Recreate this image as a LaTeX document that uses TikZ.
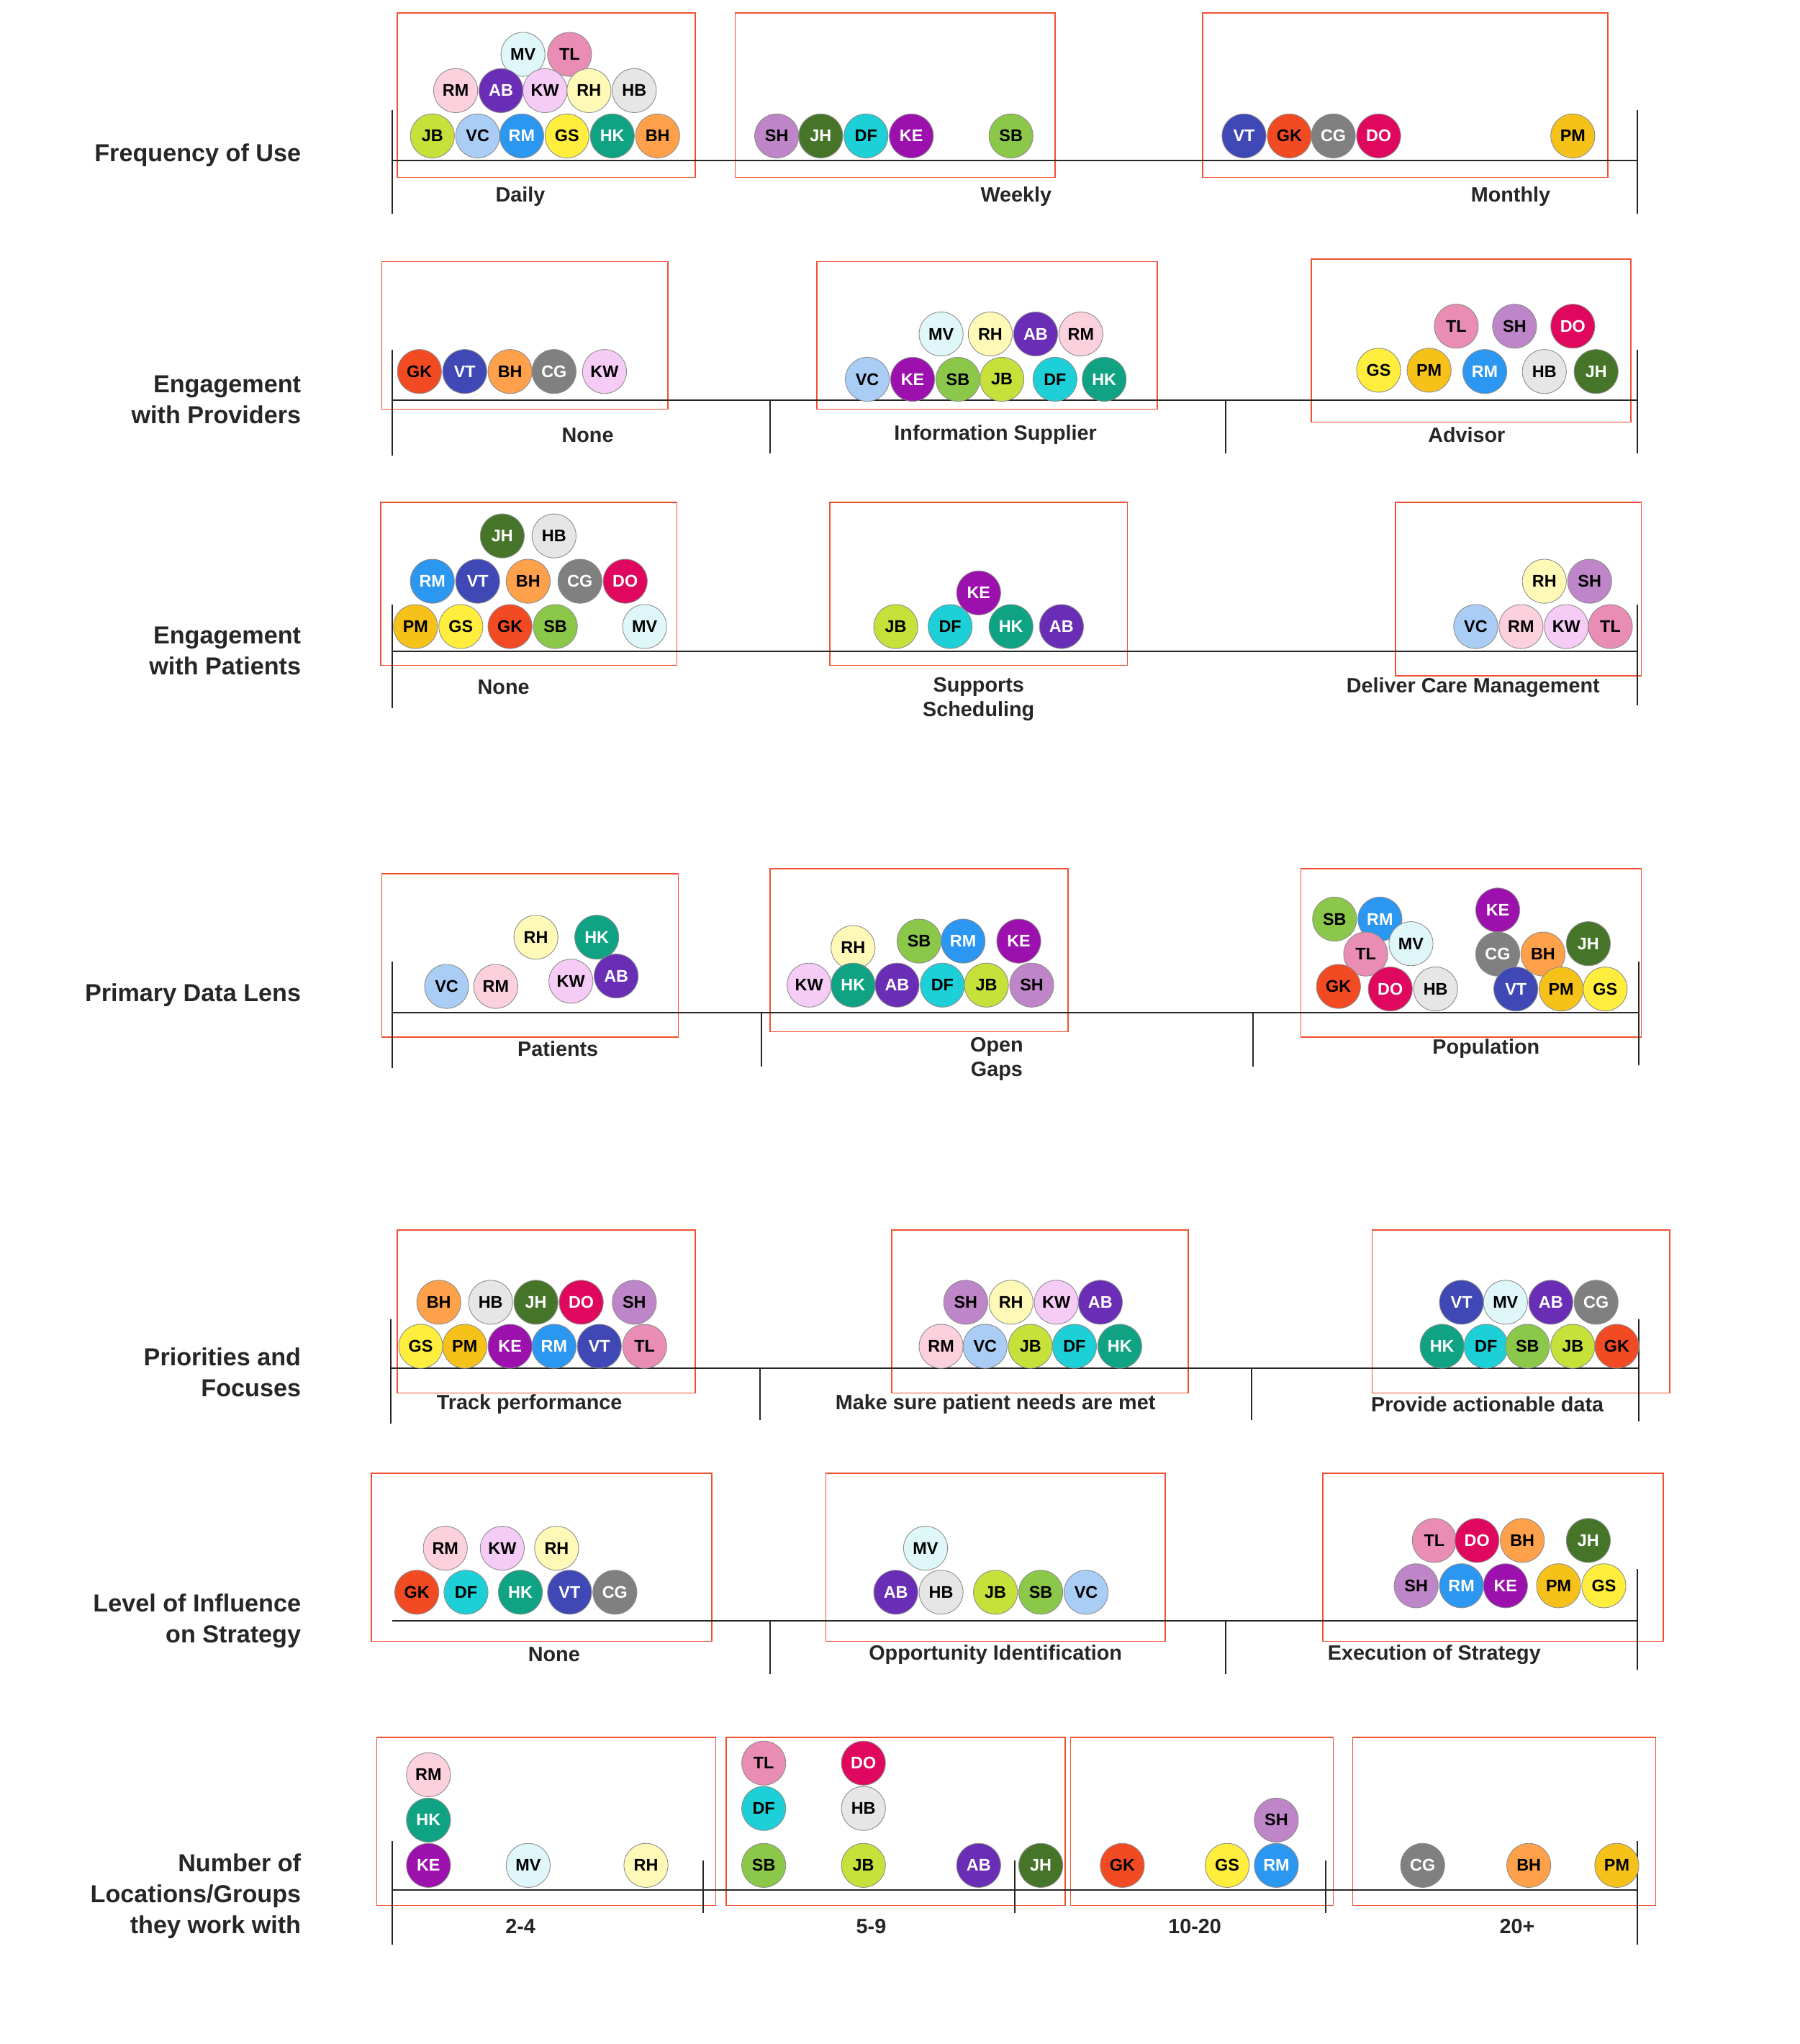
\documentclass[tikz,border=0pt]{standalone}
\usepackage{fontspec}
\setmainfont{Liberation Sans}
\begin{document}
\begin{tikzpicture}[x=1pt,y=-1pt,
  bub/.style={circle,draw=black!45,line width=0.5pt,minimum size=34pt,inner sep=0pt,font=\fontsize{13}{13}\selectfont\bfseries},
  grp/.style={draw={rgb,255:red,240;green,80;blue,48},line width=0.9pt},
  ax/.style={line width=1.1pt,black!85},
  cat/.style={font=\fontsize{16}{19}\selectfont\bfseries,align=center,text=black!85},
  rowlab/.style={font=\fontsize{19}{24}\selectfont\bfseries,align=right,anchor=east,text=black!85},
  lightcyan/.style={fill={rgb,255:red,224;green,247;blue,250}},
  pink/.style={fill={rgb,255:red,233;green,141;blue,181}},
  lightpink/.style={fill={rgb,255:red,252;green,208;blue,220}},
  purple/.style={fill={rgb,255:red,106;green,45;blue,181},text=white},
  lavender/.style={fill={rgb,255:red,245;green,204;blue,245}},
  lightyellow/.style={fill={rgb,255:red,255;green,249;blue,184}},
  lightgray/.style={fill={rgb,255:red,230;green,230;blue,230}},
  lime/.style={fill={rgb,255:red,197;green,225;blue,58}},
  lightblue/.style={fill={rgb,255:red,169;green,205;blue,245}},
  blue/.style={fill={rgb,255:red,43;green,151;blue,240},text=white},
  yellow/.style={fill={rgb,255:red,255;green,238;blue,61}},
  teal/.style={fill={rgb,255:red,15;green,163;blue,132},text=white},
  orange/.style={fill={rgb,255:red,255;green,160;blue,74}},
  mauve/.style={fill={rgb,255:red,190;green,134;blue,200}},
  darkgreen/.style={fill={rgb,255:red,70;green,117;blue,42},text=white},
  cyan/.style={fill={rgb,255:red,29;green,207;blue,214}},
  magenta/.style={fill={rgb,255:red,156;green,16;blue,174},text=white},
  green/.style={fill={rgb,255:red,139;green,200;blue,74}},
  indigo/.style={fill={rgb,255:red,63;green,72;blue,180},text=white},
  red/.style={fill={rgb,255:red,242;green,74;blue,34}},
  gray/.style={fill={rgb,255:red,128;green,128;blue,128},text=white},
  crimson/.style={fill={rgb,255:red,224;green,8;blue,94},text=white},
  gold/.style={fill={rgb,255:red,246;green,194;blue,26}},
]
\newcommand\B[5]{\node[bub,#4] (#1) at (#2,#3) {#5};}
\newcommand\Ax[4]{\coordinate (#1a) at (#2,#3); \coordinate (#1b) at (#4,#3); \draw[ax] (#1a) -- (#1b);}
\newcommand\Tk[4]{\coordinate (#1u) at (#2,#3); \coordinate (#1d) at (#2,#4); \draw[ax] (#1u) -- (#1d);}
\useasboundingbox (0,0) rectangle (1390,1579);

% ---------- Row 1
\node[rowlab] (l1) at (236,120) {Frequency of Use};
\draw[grp] (307,10) rectangle (537,137);
\draw[grp] (568,10) rectangle (815,137);
\draw[grp] (929,10) rectangle (1242,137);
\Ax{a1}{303}{124}{1265}
\Tk{t11}{303}{85}{165}\Tk{t12}{1265}{85}{165}
\node[cat] (c11) at (402,152) {Daily};
\node[cat] (c12) at (785,152) {Weekly};
\node[cat] (c13) at (1167,152) {Monthly};
\B{r1a}{404}{42}{lightcyan}{MV}\B{r1b}{440}{42}{pink}{TL}
\B{r1c}{352}{70}{lightpink}{RM}\B{r1d}{387}{70}{purple}{AB}\B{r1e}{421}{70}{lavender}{KW}\B{r1f}{455}{70}{lightyellow}{RH}\B{r1g}{490}{70}{lightgray}{HB}
\B{r1h}{334}{105}{lime}{JB}\B{r1i}{369}{105}{lightblue}{VC}\B{r1j}{403}{105}{blue}{RM}\B{r1k}{438}{105}{yellow}{GS}\B{r1l}{473}{105}{teal}{HK}\B{r1m}{508}{105}{orange}{BH}
\B{r1n}{600}{105}{mauve}{SH}\B{r1o}{634}{105}{darkgreen}{JH}\B{r1p}{669}{105}{cyan}{DF}\B{r1q}{704}{105}{magenta}{KE}\B{r1r}{781}{105}{green}{SB}
\B{r1s}{961}{105}{indigo}{VT}\B{r1t}{996}{105}{red}{GK}\B{r1u}{1030}{105}{gray}{CG}\B{r1v}{1065}{105}{crimson}{DO}\B{r1w}{1215}{105}{gold}{PM}

% ---------- Row 2
\node[rowlab] (l2) at (236,309) {Engagement\\with Providers};
\draw[grp] (295,202) rectangle (516,316);
\draw[grp] (631,202) rectangle (894,316);
\draw[grp] (1013,200) rectangle (1260,326);
\Ax{a2}{303}{309}{1265}
\Tk{t21}{303}{270}{352}\Tk{t22}{595}{309}{350}\Tk{t23}{947}{309}{350}\Tk{t24}{1265}{270}{350}
\node[cat] (c21) at (454,336) {None};
\node[cat] (c22) at (769,336) {Information Supplier};
\node[cat] (c23) at (1133,336) {Advisor};
\B{r2a}{324}{287}{red}{GK}\B{r2b}{359}{287}{indigo}{VT}\B{r2c}{394}{287}{orange}{BH}\B{r2d}{428}{287}{gray}{CG}\B{r2e}{467}{287}{lavender}{KW}
\B{r2f}{727}{258}{lightcyan}{MV}\B{r2g}{765}{258}{lightyellow}{RH}\B{r2h}{800}{258}{purple}{AB}\B{r2i}{835}{258}{lightpink}{RM}
\B{r2j}{670}{293}{lightblue}{VC}\B{r2k}{705}{293}{magenta}{KE}\B{r2l}{740}{293}{green}{SB}\B{r2m}{774}{293}{lime}{JB}\B{r2n}{815}{293}{cyan}{DF}\B{r2o}{853}{293}{teal}{HK}
\B{r2p}{1125}{252}{pink}{TL}\B{r2q}{1170}{252}{mauve}{SH}\B{r2r}{1215}{252}{crimson}{DO}
\B{r2s}{1065}{286}{yellow}{GS}\B{r2t}{1104}{286}{gold}{PM}\B{r2u}{1147}{287}{blue}{RM}\B{r2v}{1193}{287}{lightgray}{HB}\B{r2w}{1233}{287}{darkgreen}{JH}

% ---------- Row 3
\node[rowlab] (l3) at (236,503) {Engagement\\with Patients};
\draw[grp] (294,388) rectangle (523,514);
\draw[grp] (641,388) rectangle (871,514);
\draw[grp] (1078,388) rectangle (1268,522);
\Ax{a3}{303}{503}{1265}
\Tk{t31}{303}{467}{547}\Tk{t32}{1265}{467}{545}
\node[cat] (c31) at (389,531) {None};
\node[cat] (c32) at (756,540) {Supports\\Scheduling};
\node[cat] (c33) at (1138,531) {Deliver Care Management};
\B{r3a}{388}{414}{darkgreen}{JH}\B{r3b}{428}{414}{lightgray}{HB}
\B{r3c}{334}{449}{blue}{RM}\B{r3d}{369}{449}{indigo}{VT}\B{r3e}{408}{449}{orange}{BH}\B{r3f}{448}{449}{gray}{CG}\B{r3g}{483}{449}{crimson}{DO}
\B{r3h}{321}{484}{gold}{PM}\B{r3i}{356}{484}{yellow}{GS}\B{r3j}{394}{484}{red}{GK}\B{r3k}{429}{484}{green}{SB}\B{r3l}{498}{484}{lightcyan}{MV}
\B{r3m}{756}{458}{magenta}{KE}
\B{r3n}{692}{484}{lime}{JB}\B{r3o}{734}{484}{cyan}{DF}\B{r3p}{781}{484}{teal}{HK}\B{r3q}{820}{484}{purple}{AB}
\B{r3r}{1193}{449}{lightyellow}{RH}\B{r3s}{1228}{449}{mauve}{SH}
\B{r3t}{1140}{484}{lightblue}{VC}\B{r3u}{1175}{484}{lightpink}{RM}\B{r3v}{1210}{484}{lavender}{KW}\B{r3w}{1244}{484}{pink}{TL}

% ---------- Row 4
\node[rowlab] (l4) at (236,769) {Primary Data Lens};
\draw[grp] (295,675) rectangle (524,801);
\draw[grp] (595,671) rectangle (825,797);
\draw[grp] (1005,671) rectangle (1268,801);
\Ax{a4}{303}{782}{1266}
\Tk{t41}{303}{743}{825}\Tk{t42}{588}{782}{824}\Tk{t43}{968}{782}{824}\Tk{t44}{1266}{743}{823}
\node[cat] (c41) at (431,810) {Patients};
\node[cat] (c42) at (770,818) {Open\\Gaps};
\node[cat] (c43) at (1148,810) {Population};
\B{r4a}{414}{724}{lightyellow}{RH}\B{r4b}{461}{724}{teal}{HK}
\B{r4c}{441}{758}{lavender}{KW}\B{r4d}{476}{754}{purple}{AB}
\B{r4e}{345}{762}{lightblue}{VC}\B{r4f}{383}{762}{lightpink}{RM}
\B{r4g}{710}{727}{green}{SB}\B{r4h}{744}{727}{blue}{RM}\B{r4i}{787}{727}{magenta}{KE}
\B{r4j}{659}{732}{lightyellow}{RH}
\B{r4k}{625}{761}{lavender}{KW}\B{r4l}{659}{761}{teal}{HK}\B{r4m}{693}{761}{purple}{AB}\B{r4n}{728}{761}{cyan}{DF}\B{r4o}{762}{761}{lime}{JB}\B{r4p}{797}{761}{mauve}{SH}
\B{r4q}{1031}{710}{green}{SB}\B{r4r}{1066}{710}{blue}{RM}\B{r4s}{1157}{703}{magenta}{KE}
\B{r4t}{1090}{729}{lightcyan}{MV}\B{r4u}{1055}{737}{pink}{TL}\B{r4v}{1157}{737}{gray}{CG}\B{r4w}{1192}{737}{orange}{BH}\B{r4x}{1227}{729}{darkgreen}{JH}
\B{r4y}{1034}{762}{red}{GK}\B{r4z}{1074}{764}{crimson}{DO}\B{r4A}{1109}{764}{lightgray}{HB}\B{r4B}{1171}{764}{indigo}{VT}\B{r4C}{1206}{764}{gold}{PM}\B{r4D}{1240}{764}{yellow}{GS}

% ---------- Row 5
\node[rowlab] (l5) at (236,1060) {Priorities and\\Focuses};
\draw[grp] (307,950) rectangle (537,1076);
\draw[grp] (689,950) rectangle (918,1076);
\draw[grp] (1060,950) rectangle (1290,1076);
\Ax{a5}{302}{1057}{1266}
\Tk{t51}{302}{1019}{1100}\Tk{t52}{587}{1057}{1097}\Tk{t53}{967}{1057}{1097}\Tk{t54}{1266}{1019}{1098}
\node[cat] (c51) at (409,1085) {Track performance};
\node[cat] (c52) at (769,1085) {Make sure patient needs are met};
\node[cat] (c53) at (1149,1085) {Provide actionable data};
\B{r5a}{339}{1006}{orange}{BH}\B{r5b}{379}{1006}{lightgray}{HB}\B{r5c}{414}{1006}{darkgreen}{JH}\B{r5d}{449}{1006}{crimson}{DO}\B{r5e}{490}{1006}{mauve}{SH}
\B{r5f}{325}{1040}{yellow}{GS}\B{r5g}{359}{1040}{gold}{PM}\B{r5h}{394}{1040}{magenta}{KE}\B{r5i}{428}{1040}{blue}{RM}\B{r5j}{463}{1040}{indigo}{VT}\B{r5k}{498}{1040}{pink}{TL}
\B{r5l}{746}{1006}{mauve}{SH}\B{r5m}{781}{1006}{lightyellow}{RH}\B{r5n}{816}{1006}{lavender}{KW}\B{r5o}{850}{1006}{purple}{AB}
\B{r5p}{727}{1040}{lightpink}{RM}\B{r5q}{761}{1040}{lightblue}{VC}\B{r5r}{796}{1040}{lime}{JB}\B{r5s}{830}{1040}{cyan}{DF}\B{r5t}{865}{1040}{teal}{HK}
\B{r5u}{1129}{1006}{indigo}{VT}\B{r5v}{1163}{1006}{lightcyan}{MV}\B{r5w}{1198}{1006}{purple}{AB}\B{r5x}{1233}{1006}{gray}{CG}
\B{r5y}{1114}{1040}{teal}{HK}\B{r5z}{1148}{1040}{cyan}{DF}\B{r5A}{1180}{1040}{green}{SB}\B{r5B}{1215}{1040}{lime}{JB}\B{r5C}{1249}{1040}{red}{GK}

% ---------- Row 6
\node[rowlab] (l6) at (236,1252) {Level of Influence\\on Strategy};
\draw[grp] (287,1138) rectangle (550,1268);
\draw[grp] (638,1138) rectangle (900,1268);
\draw[grp] (1022,1138) rectangle (1285,1268);
\Ax{a6}{303}{1252}{1265}
\Tk{t62}{595}{1252}{1293}\Tk{t63}{947}{1252}{1293}\Tk{t64}{1265}{1212}{1290}
\node[cat] (c61) at (428,1278) {None};
\node[cat] (c62) at (769,1278) {Opportunity Identification};
\node[cat] (c63) at (1108,1278) {Execution of Strategy};
\B{r6a}{344}{1196}{lightpink}{RM}\B{r6b}{388}{1196}{lavender}{KW}\B{r6c}{430}{1196}{lightyellow}{RH}
\B{r6d}{322}{1230}{red}{GK}\B{r6e}{360}{1230}{cyan}{DF}\B{r6f}{402}{1230}{teal}{HK}\B{r6g}{440}{1230}{indigo}{VT}\B{r6h}{475}{1230}{gray}{CG}
\B{r6i}{715}{1196}{lightcyan}{MV}
\B{r6j}{692}{1230}{purple}{AB}\B{r6k}{727}{1230}{lightgray}{HB}\B{r6l}{769}{1230}{lime}{JB}\B{r6m}{804}{1230}{green}{SB}\B{r6n}{839}{1230}{lightblue}{VC}
\B{r6o}{1108}{1190}{pink}{TL}\B{r6p}{1141}{1190}{crimson}{DO}\B{r6q}{1176}{1190}{orange}{BH}\B{r6r}{1227}{1190}{darkgreen}{JH}
\B{r6s}{1094}{1225}{mauve}{SH}\B{r6t}{1129}{1225}{blue}{RM}\B{r6u}{1163}{1225}{magenta}{KE}\B{r6v}{1204}{1225}{gold}{PM}\B{r6w}{1239}{1225}{yellow}{GS}

% ---------- Row 7
\node[rowlab] (l7) at (236,1465) {Number of\\Locations/Groups\\they work with};
\draw[grp] (291,1342) rectangle (553,1472);
\draw[grp] (561,1342) rectangle (823,1472);
\draw[grp] (827,1342) rectangle (1030,1472);
\draw[grp] (1045,1342) rectangle (1279,1472);
\Ax{a7}{303}{1460}{1265}
\Tk{t71}{303}{1422}{1502}\Tk{t72}{543}{1437}{1478}\Tk{t73}{784}{1437}{1478}\Tk{t74}{1024}{1437}{1478}\Tk{t75}{1265}{1422}{1502}
\node[cat] (c71) at (402,1488) {2-4};
\node[cat] (c72) at (673,1488) {5-9};
\node[cat] (c73) at (923,1488) {10-20};
\node[cat] (c74) at (1172,1488) {20+};
\B{r7a}{331}{1371}{lightpink}{RM}\B{r7b}{331}{1406}{teal}{HK}\B{r7c}{331}{1441}{magenta}{KE}\B{r7d}{408}{1441}{lightcyan}{MV}\B{r7e}{499}{1441}{lightyellow}{RH}
\B{r7f}{590}{1362}{pink}{TL}\B{r7g}{667}{1362}{crimson}{DO}\B{r7h}{590}{1397}{cyan}{DF}\B{r7i}{667}{1397}{lightgray}{HB}
\B{r7j}{590}{1441}{green}{SB}\B{r7k}{667}{1441}{lime}{JB}\B{r7l}{756}{1441}{purple}{AB}\B{r7m}{804}{1441}{darkgreen}{JH}
\B{r7n}{986}{1406}{mauve}{SH}\B{r7o}{867}{1441}{red}{GK}\B{r7p}{948}{1441}{yellow}{GS}\B{r7q}{986}{1441}{blue}{RM}
\B{r7r}{1099}{1441}{gray}{CG}\B{r7s}{1181}{1441}{orange}{BH}\B{r7t}{1249}{1441}{gold}{PM}
\end{tikzpicture}
\end{document}
